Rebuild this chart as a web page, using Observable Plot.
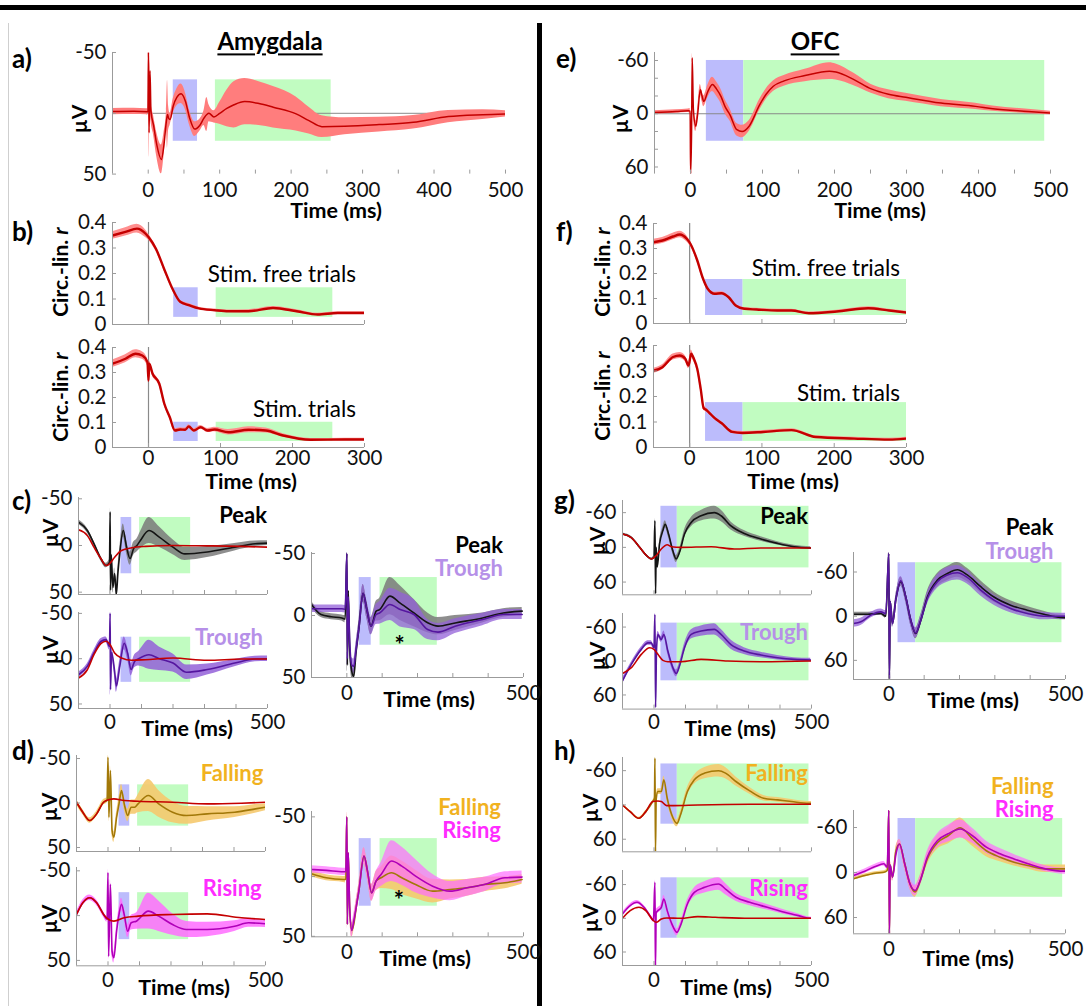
<!DOCTYPE html>
<html><head><meta charset="utf-8">
<script src="https://cdn.jsdelivr.net/npm/d3@7"></script>
<script src="https://cdn.jsdelivr.net/npm/@observablehq/plot@0.6"></script>
<style>
body{margin:0;background:#fff;font-family:Lato,sans-serif;}
#fig{position:relative;width:1086px;height:1006px;overflow:hidden;background:#fff;}
.t{position:absolute;white-space:nowrap;line-height:0.8;font-family:Lato,sans-serif;}
.bar{position:absolute;}
</style></head>
<body><div id="fig"></div>
<script>
// ---------- DATA: [time ms, mean, half-width of shaded band] ----------
const amyERP = [[-50,-1.4,2.5],[-20,-1.6,2.5],[-2,-1.3,2.5],[-0.5,-1,3],[0.3,-50,4],[1.2,16,20],[2.5,-35,12],[3.8,-2,8],[7.5,10,8],[12,26,10],[18.4,38,12],[22,26,10],[25.5,6,8],[27,1,28],[28.5,4,10],[30.5,5,5],[35,-6,6],[40,-13,7],[46,-16,8],[52,-10,7],[58,4,6],[65,13,6],[72,10,5],[78,4,6],[82,1,14],[85,0,7],[92,3,5],[100,0,9],[110,-4,15],[120,-7,19],[135,-9.6,19],[155,-8,18],[175,-5,17],[207,0.5,14],[225,6,11],[243,11,9],[275,10.7,7],[323,9.3,6],[371,7.4,5.5],[420,2.7,5],[468,1.1,4],[500,0.5,2.5]];
const ofcERP = [[-50,-1.5,2],[-20,-2.5,2],[-3,-3.4,2],[-0.5,-3,3],[0.2,68,5],[1.5,20,8],[2.4,-63,5],[4,-5,8],[7.3,14,6],[10,0,6],[13.6,-27,6],[16,-20,6],[18.4,-14,6],[24,-25,7],[30.5,-33,8],[36,-28,8],[42.6,-19,8],[48,-8,8],[54.7,1,7],[64.4,18,7],[71.7,20,7],[81.4,14,6],[96,-10,6],[105,-22,6],[115,-31,6],[130,-37,6],[159,-43,7],[193,-48,9.5],[202,-47,9],[227,-38.5,7],[251,-28,5],[275,-22,5],[299,-18.5,4.5],[348,-12,4],[396,-8.3,3.5],[420,-5.7,3],[469,-2.6,2.5],[500,-0.8,2]];
const amyRfree = [[-50,0.349,0.015],[-32,0.363,0.016],[-16,0.376,0.017],[-4,0.356,0.015],[0,0.343,0.012],[10.5,0.296,0.01],[22,0.216,0.008],[34,0.136,0.007],[44,0.089,0.006],[56,0.076,0.006],[70,0.063,0.005],[92,0.056,0.005],[111,0.052,0.005],[139,0.052,0.006],[173,0.065,0.006],[206,0.052,0.006],[235,0.039,0.005],[263,0.045,0.005],[300,0.045,0.005]];
const amyRstim = [[-50,0.335,0.015],[-32,0.355,0.016],[-18,0.375,0.016],[-8.6,0.368,0.015],[-1.4,0.341,0.015],[0,0.268,0.01],[1,0.335,0.012],[5.7,0.295,0.01],[15,0.255,0.009],[22,0.175,0.008],[29.6,0.121,0.007],[36.7,0.068,0.007],[44,0.072,0.007],[51,0.071,0.007],[56,0.084,0.007],[63,0.068,0.007],[72.5,0.081,0.007],[82,0.068,0.008],[91.6,0.072,0.009],[111,0.061,0.011],[139,0.071,0.012],[163,0.068,0.01],[187,0.048,0.007],[225,0.031,0.005],[273,0.032,0.005],[300,0.032,0.005]];
const ofcRfree = [[-50,0.325,0.012],[-37.6,0.332,0.012],[-23,0.348,0.013],[-13.5,0.356,0.013],[-4,0.339,0.012],[1,0.319,0.01],[10.6,0.252,0.008],[17.8,0.185,0.007],[25,0.139,0.006],[34.7,0.119,0.006],[44,0.121,0.006],[54,0.105,0.006],[63.7,0.072,0.005],[75.7,0.059,0.005],[92.6,0.056,0.005],[121.5,0.052,0.005],[140.8,0.052,0.005],[165,0.041,0.005],[203.5,0.048,0.005],[247,0.061,0.006],[276,0.052,0.005],[300,0.044,0.005]];
const ofcRstim = [[-50,0.301,0.01],[-37.6,0.315,0.01],[-23,0.355,0.012],[-13.5,0.361,0.012],[-6,0.348,0.012],[-1.4,0.321,0.012],[2,0.368,0.014],[5.8,0.348,0.012],[10.6,0.308,0.01],[15.4,0.228,0.009],[19.3,0.155,0.008],[22.7,0.148,0.008],[27.5,0.135,0.007],[34.7,0.115,0.006],[44.4,0.095,0.006],[58.8,0.061,0.006],[73.3,0.057,0.006],[102,0.061,0.006],[141,0.068,0.006],[174.6,0.041,0.005],[227.6,0.035,0.005],[276,0.031,0.005],[300,0.035,0.005]];

const amyPeak = [[-100,-25,2.5],[-72,-16,2.5],[-51,-2,2.5],[-29,14,2.5],[-12.5,21.4,2.5],[-1.6,18,3],[0.5,-36,4],[1.6,48,5],[4,10,5],[9.3,45,6],[14.7,30,6],[20.2,52,6],[25,30,6],[31,9,6],[42,-16,7],[52.8,2,7],[63.7,14,7],[74.6,3.6,7],[85.5,0,7],[96.4,-5.4,9],[123.7,-16,14],[156.4,-9,11],[200,1.8,8],[238,9,7],[309,7,6],[396,1.8,4],[461,-1.8,3],[500,-2.5,2.5]];
const amyPeakCtl = [[-100,-16.8],[-72,-10.7],[-51,1.8],[-29,14],[-12.5,21.4],[-1.6,19.6],[14.7,12.5],[36.5,5.4],[69,2.5],[113,1],[200,0],[309,0.4],[418,1],[500,1.8]];
const amyTrough = [[-100,17.7,3],[-72,8.5,3],[-51,-6.3,3],[-29,-19,3],[-12.5,-21,3],[-1.6,-13.6,4],[0.5,-50,4],[1.6,34,6],[5,-7,6],[14.7,14,6],[20.2,30,7],[31,8.5,7],[45,-17,7],[56,-6,7],[67,12,7],[78,3,7],[91,0,8],[123.7,-4.4,16],[156.4,0,13],[200,4.8,10],[243.5,15,8],[309,12,6],[396,4.8,4],[461,0.4,3],[500,0,3]];
const amyTroughCtl = [[-100,21.4],[-72,12.2],[-51,-4.4],[-29,-16.6],[-12.5,-19.2],[-1.6,-16.6],[14.7,-6.3],[36.5,-0.7],[69,1.8],[113,1.1],[200,-0.7],[309,1.8],[418,0.4],[500,0.4]];
const amyPeakCmp = [[-100,-8.9,2.5],[-73,-0.8,2.5],[-44,1,2.5],[-14,2,2.5],[-4.7,3,3],[0.2,-50,4],[1.5,40,5],[4,-20,5],[8,25,6],[14,45,6],[19.6,49,6],[26,30,6],[34,11,6],[46,-18,7],[56.6,-4.8,7],[68.3,8.6,7],[83,-3.5,8],[92.6,-4.8,9],[121.8,-15.6,15],[151,-10,14],[190,-2,11],[228.8,5.9,8],[258,8.6,7],[306.6,6,6],[384.4,2,4],[442.8,-2,3.5],[496.3,-3.5,3]];
const amyTroughCmp = [[-100,-5.4,3],[-44,-5.4,3],[-14,-5.4,3],[-4.7,-5,3],[0.2,-50,4],[1.5,35,5],[4,-15,5],[8,20,6],[14,40,6],[19.6,41,6],[26,28,6],[34,11,6],[46,-18,7],[56.6,-4.8,7],[68.3,8.6,7],[83,-0.8,8],[92.6,-2,9],[121.8,-8.9,13],[151,-4.8,14],[190,-0.8,12],[228.8,11.3,8],[258,13.4,7],[306.6,8.6,6],[384.4,3.2,5],[442.8,-0.8,4],[496.3,-0.8,4]];

const ofcPeak = [[-100,-23,2],[-72,-17,2],[-45.5,0,2],[-24.4,14,2],[-8.6,20,2],[-0.2,17,3],[3,-46,4],[5,80,4],[7,0,5],[10.3,34,5],[17.7,-6,5],[28.3,-29,6],[35.6,-40,6],[46.2,-23,6],[59.9,6,6],[70.4,20,6],[81,8.6,6],[96.8,-23,7],[117.9,-43,8],[149.5,-54.6,9],[191.7,-60,11],[212.8,-54.6,10],[244.4,-37,7],[286.6,-24,5],[339.4,-14.4,4],[392,-6.9,3],[444.8,-1.1,2.5],[497.6,1.1,2]];
const ofcPeakCtl = [[-100,-23],[-72,-17],[-45.5,0],[-24.4,14],[-8.6,20],[7.2,14],[23,2.9],[42,-4.6],[54.6,-1.1],[86,0],[181,-1.1],[255,2.9],[339,1.1],[497.6,1.1]];
const ofcTrough = [[-100,35,5],[-72,6,4],[-40.3,-20.6,4],[-19.2,-32,4],[-8.6,-32,4],[-0.2,-23.5,4],[3,-82,4],[5,82,4],[8,-20,5],[12.4,-47,5],[23,-38,5],[31.4,-47,6],[44,-17.6,6],[59.9,11.8,6],[70.4,22,6],[81,8.8,6],[96.8,-23.5,7],[117.9,-47,8],[149.5,-53,9],[191.7,-56,10],[212.8,-47,9],[244.4,-29,8],[286.6,-17.6,6],[339.4,-10.6,5],[392,-5.9,4],[444.8,-2.9,3],[497.6,-1.8,3]];
const ofcTroughCtl = [[-100,22],[-72,11.8],[-40.3,-11.8],[-13.9,-23.5],[-0.2,-20.6],[12.4,-11.8],[28.3,-1.2],[44,1.2],[86,1.2],[149.5,-2.9],[234,0],[339,1.2],[497.6,0]];
const ofcPeakCmp = [[-100,-2.7,2.5],[-60,-2.7,2.5],[-22.6,-3.6,2.5],[-8.5,0,3],[0,-85,4],[1.5,85,4],[4,-20,5],[10.4,10,5],[19.8,-22,6],[34,-47,6],[48,-26,7],[62,5.5,7],[76,23.6,7],[90.4,5.5,7],[109,-26,8],[137.5,-49,9],[165.7,-58,9.5],[194,-63,10],[222,-56,9],[260,-40,8],[297.6,-26,7],[344.6,-15,6],[391.8,-8.2,5],[438.9,-2.7,4],[486,1.8,3],[500,2,3]];
const ofcTroughCmp = [[-100,10,5],[-79,7.7,5],[-51,-1.4,4],[-22.6,-5.9,4],[-8.5,-3.6,4],[0,-85,4],[1.5,85,4],[4,-20,5],[10.4,10,5],[19.8,-22,6],[34,-48,6],[48,-26,7],[62,5.5,7],[76,22.7,7],[90.4,5.5,7],[109,-24,8],[137.5,-46.8,9],[165.7,-56,10],[194,-59,10],[222,-52.7,9],[260,-35.5,8],[297.6,-21.8,7],[344.6,-10.5,6],[391.8,-3.6,5],[438.9,0,5],[486,0,4],[500,0,4]];

const amyFall = [[-100,-0.9,3],[-80,10.3,3],[-58,19.7,3],[-36,12.2,3],[-14,-0.9,3],[-3,-2.8,3],[0,-51.5,4],[3,15.9,5],[7.7,-36.5,5],[13,30.9,6],[18.6,38.4,6],[27.4,15.9,6],[35,0.9,7],[42.8,-14,7],[51.5,0.9,7],[62.5,14,7],[73.5,4.7,8],[84.4,4.7,8],[95.4,0.9,10],[128,-8.4,18],[161,0.9,15],[205,10.3,12],[249,14,10],[315,12.2,8],[402,10.3,6],[468,6.6,5],[500,4.7,4]];
const amyFallCtl = [[-100,-0.9],[-80,10.3],[-58,19.7],[-36,12.2],[-14,-0.9],[2,-3.6],[18.6,-4.7],[51.5,-2.8],[95.4,-2],[205,-0.9],[315,1],[424,0.2],[500,-0.9]];
const amyRise = [[-100,-1.3,3],[-80,-14.4,3],[-58,-20,3],[-36,-14.4,3],[-14,-1.3,3],[-3,4.3,3],[0,-48,4],[2,45.5,5],[7.7,-35,5],[13,40,6],[18.6,47,6],[27.4,17.4,6],[35,-1.3,7],[42.8,-12.5,7],[51.5,-1.3,7],[62.5,17.4,7],[73.5,8,8],[90,6.2,9],[128,-5,20],[161,0.6,17],[205,10,12],[249,15.5,9],[315,15.5,8],[402,11.8,6],[446,8,5],[500,9.2,4]];
const amyRiseCtl = [[-100,-1.3],[-80,-14.4],[-58,-20],[-36,-14.4],[-14,-1.3],[2,4.3],[18.6,6.2],[51.5,2.4],[95.4,0.6],[205,-1.3],[315,-2],[424,2.4],[500,4.3]];
const amyFallCmp = [[-100,-2.4,2.5],[-58,1,2.5],[-9.7,2.4,2.5],[-3,2.4,3],[0,-50,4],[1.5,40,5],[4,-20,5],[8,25,6],[14,45,6],[19.5,40,6],[27,25,6],[34,12.2,6],[48.6,-17.2,7],[58.4,-4.6,7],[70,13.6,7],[82.7,3.8,8],[97,1,9],[126.5,-3.2,14],[155.6,1,14],[194.6,6.6,12],[243,12.2,10],[292,10.8,8],[340.5,9.4,7],[389,6.6,6],[447.5,5.2,5],[496,2.4,4]];
const amyRiseCmp = [[-100,-6,3],[-58,-5.2,3],[-9.7,-4,3],[-3,-4,3],[0,-50,4],[1.5,40,5],[4,-20,5],[8,25,6],[14,45,6],[19.5,37.4,6],[27,25,6],[34,12.2,6],[48.6,-17.2,7],[58.4,-4.6,7],[70,13.6,7],[82.7,3.8,8],[97,-1.8,10],[126.5,-13,17],[155.6,-8.8,16],[194.6,-0.4,14],[243,8,10],[292,12.2,8],[340.5,9.4,7],[389,6.6,6],[447.5,1,5],[496,0.4,5]];

const ofcFall = [[-100,0,2],[-75.6,11.7,2],[-48,23.4,2],[-26,11.7,2],[-4,-5.9,2],[1.5,-11.7,3],[3,-82,4],[4.7,82,4],[7,-10,5],[12.4,-23.4,5],[23.4,-23.4,5],[31.2,-44,6],[42,-11.7,6],[56.6,17.6,6],[73,32.2,6],[84,17.6,6],[106,-23.4,7],[128,-44,8],[161,-55.7,10],[205,-59.8,11],[227,-55.7,10],[260,-41,8],[304,-24.6,6],[348,-11.7,5],[393,-8.8,4],[436.7,-5.9,3.5],[491.8,-2.9,3],[500,-2.9,3]];
const ofcFallCtl = [[-100,0],[-75.6,11.7],[-48,23.4],[-26,11.7],[-4,-5.9],[12.4,-7],[23.4,-5.9],[40,1.2],[62,1.2],[139,0],[304,-1.2],[414.6,-1.2],[500,-1.2]];
const ofcRise = [[-100,-7.7,3],[-75.6,-22.6,3],[-53.6,-28.5,3],[-31.6,-19.6,3],[-9.5,-1.8,3],[-2,4.2,3],[3,-64,4],[4.7,87,4],[7,-10,5],[12.4,-13.6,5],[23.4,-19.6,5],[31.2,-34.4,6],[42,-13.6,6],[56.6,10,6],[73,25,6],[84,13,6],[106,-25.5,7],[128,-46,8],[161,-55,10],[205,-61,11],[227,-52,10],[260,-37.4,7],[304,-28.5,6],[359.5,-19.6,5],[414.6,-10.7,4],[458.8,-4.7,3],[497,0,2],[500,0,2]];
const ofcRiseCtl = [[-100,0],[-75.6,-13.6],[-48,-19.6],[-26,-13.6],[-4,3],[7,7.1],[23.4,1.2],[40,-0.6],[84,0],[139,-3],[194,-1.8],[304,0],[500,0]];
const ofcRiseCmp = [[-100,4,3],[-68,-1.8,3],[-38.7,-8,3],[-14,-11.6,3],[-4.5,-7.1,3],[0,-83,4],[1.5,84,4],[4,-10,5],[10.4,6.2,5],[20.3,-25,6],[30,-38,6],[45,-11.6,7],[59.6,15,7],[74.4,24,7],[89,10.7,7],[108.8,-20.4,8],[138,-42.7,9],[167.8,-51.6,11],[202,-58,12],[236.7,-49,10],[276,-33.8,8],[315,-25,7],[354.5,-18,6],[394,-11.6,5],[443,-4.9,4],[497,-1.8,4],[500,-1.8,4]];
const ofcFallCmp = [[-100,8.4,2],[-68,4,2],[-38.7,0.9,2],[-14,-0.4,2],[-4.5,-2.7,2],[0,-83,4],[1.5,84,4],[4,-10,5],[10.4,6.2,5],[20.3,-29,6],[30,-38,6],[45,-11.6,7],[59.6,15,7],[74.4,26,7],[89,10.7,7],[108.8,-18,8],[138,-40,9],[167.8,-49,11],[202,-59.6,13],[236.7,-45,10],[276,-29,8],[315,-20.4,6],[354.5,-13.8,5],[394,-9.3,5],[443,-4.9,5],[497,-4.9,5],[500,-4.9,5]];

// analysis windows (ms)
const amyBlue = [35, 69], amyGreen = [94, 256];
const ofcBlue = [22, 74], ofcGreen = [74, 492];

// ticks
const ticks500 = [0, 100, 200, 300, 400, 500];
const ticks500half = [0, 50, 100, 150, 200, 250, 300, 350, 400, 450, 500];
const ticks300 = [0, 100, 200, 300];
const labels0_500 = [0, 500];
const yAmy = [-50, 0, 50];
const yOfc = [-60, 0, 60];
const yOfcMinor = [-60, -40, -20, 0, 20, 40, 60];
const rTicks = [0, 0.1, 0.2, 0.3, 0.4];

// ---------- STYLE ----------
const FONT = "Lato, sans-serif";
const TICK = 20.5;
const AX = "#9b9b9b";
const C = {
  red: "#c40000", redBand: "#ff7d7d", redBandB: "#ff8f8f",
  black: "#141414", grayBand: "#7a7a7a",
  purple: "#55169f", purpleBand: "#9360d8", purpleLabel: "#b690e8",
  gold: "#a27808", goldBand: "#f5c96e", goldLabel: "#f1b21f",
  mag: "#b000b8", magBand: "#ff6cff", magLabel: "#ff2cff",
  blue: "#bcbcfc", green: "#c1fcc1"
};
const fig = document.getElementById("fig");

function bar(l, t, w, h, c) {
  const d = document.createElement("div");
  d.className = "bar";
  Object.assign(d.style, {left: l + "px", top: t + "px", width: w + "px", height: h + "px", background: c});
  fig.appendChild(d);
}
function txt(s, x, y, o = {}) {
  const d = document.createElement("div");
  d.className = "t";
  if (o.html) d.innerHTML = s; else d.textContent = s;
  const tx = o.anchor === "end" ? "-100%" : o.anchor === "start" ? "0" : "-50%";
  Object.assign(d.style, {left: x + "px", top: y + "px", fontSize: (o.size || 21) + "px",
    fontWeight: o.bold ? 700 : 400, color: o.color || "#000"});
  let tr = `translate(${tx},-50%)`;
  if (o.rotate) tr += ` rotate(${o.rotate}deg)`;
  d.style.transform = tr;
  if (o.underline) { d.style.textDecoration = "underline"; d.style.textDecorationThickness = "2px"; d.style.textUnderlineOffset = "3px"; }
  fig.appendChild(d);
}

const X = d => d[0], M = d => d[1], LO = d => d[1] - d[2], HI = d => d[1] + d[2];

function panel(p) {
  const [L, T, R, B] = p.box;
  const mL = 60, mR = 14, mT = 8, mB = 36;
  const w = R - L, h = B - T;
  const bottomVal = p.rev ? p.yd[1] : p.yd[0];
  const marks = [];
  for (const win of p.windows) {
    marks.push(Plot.rect([win], {x1: d => d.x[0], x2: d => d.x[1], y1: d => d.y[0], y2: d => d.y[1], fill: d => d.fill}));
  }
  if (p.zeroY) marks.push(Plot.ruleY([0], {stroke: "#8a8a8a", strokeWidth: 1}));
  if (p.zeroX) marks.push(Plot.ruleX([0], {stroke: "#8a8a8a", strokeWidth: 1.2}));
  for (const s of p.series) {
    if (s.band) marks.push(Plot.areaY(s.data, {x: X, y1: LO, y2: HI, fill: s.band, fillOpacity: s.bandOpacity ?? 1, curve: "monotone-x", clip: true}));
  }
  for (const s of p.series) {
    marks.push(Plot.line(s.data, {x: X, y: M, stroke: s.line, strokeWidth: s.width || 1.6, curve: "monotone-x", clip: true}));
  }
  for (const c of (p.controls || [])) {
    marks.push(Plot.line(c, {x: X, y: M, stroke: C.red, strokeWidth: 1.6, curve: "monotone-x", clip: true}));
  }
  // axes
  marks.push(Plot.ruleX([p.xd[0]], {stroke: AX, strokeWidth: 1}));
  if (!p.noBottom) marks.push(Plot.ruleY([bottomVal], {stroke: AX, strokeWidth: 1}));
  marks.push(Plot.tickX(p.xt, {x: d => d, insetTop: h - 4, stroke: AX}));
  marks.push(Plot.tickY(p.yt, {y: d => d, insetRight: w - 4, stroke: AX}));
  marks.push(Plot.axisY({ticks: p.yl, tickSize: 0, tickPadding: 6, tickFormat: d => String(d), fontSize: TICK, label: null, fill: "#111"}));
  if (p.xl) marks.push(Plot.axisX({ticks: p.xl, tickSize: 0, tickPadding: p.xpad ?? 6, tickFormat: d => String(d), fontSize: TICK, label: null, fill: "#111"}));
  const svg = Plot.plot({
    width: w + mL + mR, height: h + mT + mB,
    marginLeft: mL, marginRight: mR, marginTop: mT, marginBottom: mB,
    x: {domain: p.xd, axis: null}, y: {domain: p.yd, reverse: !!p.rev, axis: null},
    style: {background: "transparent", fontFamily: FONT, fontSize: TICK + "px", overflow: "visible"},
    marks
  });
  svg.style.position = "absolute";
  svg.style.left = (L - mL) + "px";
  svg.style.top = (T - mT) + "px";
  fig.appendChild(svg);
}
const win = (b, g, y) => [{x: b, y, fill: C.blue}, {x: g, y, fill: C.green}];

// ---------- frame lines ----------
bar(0, 5, 1086, 5, "#000");
bar(537, 23, 5, 983, "#000");
bar(8, 23, 1, 983, "#cfcfcf");

// ---------- a) ----------
panel({box: [112, 51.7, 505, 173.3], xd: [-50, 500], yd: [-50, 50], rev: true,
  windows: win(amyBlue, amyGreen, [-27.5, 23]), zeroY: true, noBottom: true,
  series: [{data: amyERP, band: C.redBand, line: C.red, width: 1.5}],
  xt: ticks500half, yt: yAmy, yl: yAmy, xl: ticks500, xpad: 8});
// ---------- e) ----------
panel({box: [654, 51.7, 1050, 173.3], xd: [-50, 500], yd: [-69, 68], rev: true,
  windows: win(ofcBlue, ofcGreen, [-60, 31]), zeroY: true, noBottom: true,
  series: [{data: ofcERP, band: C.redBand, line: C.red, width: 1.5}],
  xt: ticks500half, yt: yOfcMinor, yl: yOfc, xl: ticks500, xpad: 8});
// ---------- b) ----------
panel({box: [112, 222, 364, 324], xd: [-50, 300], yd: [0, 0.4],
  windows: win(amyBlue, amyGreen, [0.028, 0.144]), zeroX: true,
  series: [{data: amyRfree, band: C.redBandB, line: C.red, width: 2.4}],
  xt: ticks300, yt: rTicks, yl: rTicks});
panel({box: [112, 347, 364, 447], xd: [-50, 300], yd: [0, 0.4],
  windows: win(amyBlue, amyGreen, [0.024, 0.101]), zeroX: true,
  series: [{data: amyRstim, band: C.redBandB, line: C.red, width: 2.4}],
  xt: ticks300, yt: rTicks, yl: rTicks, xl: ticks300, xpad: 3});
// ---------- f) ----------
panel({box: [653, 223, 906, 323], xd: [-50, 300], yd: [0, 0.4],
  windows: win(ofcBlue, [74, 300], [0.032, 0.176]), zeroX: true,
  series: [{data: ofcRfree, band: C.redBandB, line: C.red, width: 2.4}],
  xt: ticks300, yt: rTicks, yl: rTicks});
panel({box: [653, 345, 906, 447], xd: [-50, 300], yd: [0, 0.4],
  windows: win(ofcBlue, [74, 300], [0.024, 0.176]), zeroX: true,
  series: [{data: ofcRstim, band: C.redBandB, line: C.red, width: 2.4}],
  xt: ticks300, yt: rTicks, yl: rTicks, xl: ticks300, xpad: 3});
// ---------- c) ----------
panel({box: [78, 497, 267, 594], xd: [-100, 500], yd: [-51.4, 52.5], rev: true,
  windows: win(amyBlue, amyGreen, [-30, 30.3]),
  series: [{data: amyPeak, band: C.grayBand, bandOpacity: 0.85, line: C.black}], controls: [amyPeakCtl],
  xt: ticks500, yt: yAmy, yl: yAmy});
panel({box: [78, 612, 267, 708], xd: [-100, 500], yd: [-51, 55], rev: true,
  windows: win(amyBlue, amyGreen, [-23.7, 26.1]),
  series: [{data: amyTrough, band: C.purpleBand, bandOpacity: 0.85, line: C.purple}], controls: [amyTroughCtl],
  xt: ticks500, yt: yAmy, yl: yAmy, xl: labels0_500, xpad: 6});
panel({box: [311, 552, 523, 677], xd: [-100, 500], yd: [-50.8, 50], rev: true,
  windows: win(amyBlue, amyGreen, [-30.6, 24]),
  series: [{data: amyPeakCmp, band: C.grayBand, bandOpacity: 0.85, line: C.black},
           {data: amyTroughCmp, band: C.purpleBand, bandOpacity: 0.75, line: C.purple}],
  xt: ticks500, yt: yAmy, yl: yAmy, xl: labels0_500, xpad: 8});
// ---------- g) ----------
panel({box: [621.7, 500, 810.7, 594.3], xd: [-100, 500], yd: [-81, 82], rev: true,
  windows: win(ofcBlue, ofcGreen, [-71, 35.5]),
  series: [{data: ofcPeak, band: C.grayBand, bandOpacity: 0.85, line: C.black}], controls: [ofcPeakCtl],
  xt: ticks500, yt: yOfc, yl: yOfc});
panel({box: [621.7, 612.7, 810.7, 708.3], xd: [-100, 500], yd: [-84, 85], rev: true,
  windows: win(ofcBlue, ofcGreen, [-67, 35]),
  series: [{data: ofcTrough, band: C.purpleBand, bandOpacity: 0.85, line: C.purple}], controls: [ofcTroughCtl],
  xt: ticks500, yt: yOfc, yl: yOfc, xl: labels0_500, xpad: 5});
panel({box: [853, 552.3, 1065, 679.3], xd: [-100, 500], yd: [-86.5, 86], rev: true,
  windows: win([26, 76], [76, 490], [-72.6, 36]),
  series: [{data: ofcPeakCmp, band: C.grayBand, bandOpacity: 0.85, line: C.black},
           {data: ofcTroughCmp, band: C.purpleBand, bandOpacity: 0.75, line: C.purple}],
  xt: ticks500, yt: yOfc, yl: yOfc, xl: labels0_500, xpad: 7});
// ---------- d) ----------
panel({box: [76, 755, 265, 851], xd: [-100, 500], yd: [-53.4, 54.5], rev: true,
  windows: win(amyBlue, amyGreen, [-20.4, 26]),
  series: [{data: amyFall, band: C.goldBand, bandOpacity: 0.9, line: C.gold}], controls: [amyFallCtl],
  xt: ticks500, yt: yAmy, yl: yAmy});
panel({box: [76, 866.7, 265, 965], xd: [-100, 500], yd: [-53.7, 56], rev: true,
  windows: win(amyBlue, amyGreen, [-25.6, 26.8]),
  series: [{data: amyRise, band: C.magBand, bandOpacity: 0.85, line: C.mag}], controls: [amyRiseCtl],
  xt: ticks500, yt: yAmy, yl: yAmy, xl: labels0_500, xpad: 7});
panel({box: [311, 810.7, 523, 936], xd: [-100, 500], yd: [-54.5, 50.4], rev: true,
  windows: win(amyBlue, amyGreen, [-31.8, 24.8]),
  series: [{data: amyFallCmp, band: C.goldBand, bandOpacity: 0.9, line: C.gold},
           {data: amyRiseCmp, band: C.magBand, bandOpacity: 0.7, line: C.mag}],
  xt: ticks500, yt: yAmy, yl: yAmy, xl: labels0_500, xpad: 8});
// ---------- h) ----------
panel({box: [621.7, 756.7, 810.7, 851], xd: [-100, 500], yd: [-83, 82], rev: true,
  windows: win(ofcBlue, ofcGreen, [-71.7, 33.7]),
  series: [{data: ofcFall, band: C.goldBand, bandOpacity: 0.9, line: C.gold}], controls: [ofcFallCtl],
  xt: ticks500, yt: yOfc, yl: yOfc});
panel({box: [621.7, 870, 810.7, 965], xd: [-100, 500], yd: [-85, 84], rev: true,
  windows: win(ofcBlue, ofcGreen, [-72, 35.5]),
  series: [{data: ofcRise, band: C.magBand, bandOpacity: 0.85, line: C.mag}], controls: [ofcRiseCtl],
  xt: ticks500, yt: yOfc, yl: yOfc, xl: labels0_500, xpad: 7});
panel({box: [853, 810, 1065, 933.3], xd: [-100, 500], yd: [-82.7, 81.7], rev: true,
  windows: win([26, 76], [76, 492], [-72, 33]),
  series: [{data: ofcFallCmp, band: C.goldBand, bandOpacity: 0.9, line: C.gold},
           {data: ofcRiseCmp, band: C.magBand, bandOpacity: 0.7, line: C.mag}],
  xt: ticks500, yt: yOfc, yl: yOfc, xl: labels0_500, xpad: 8});

// ---------- texts ----------
const PL = 26;
txt("a)", 12, 58, {bold: true, size: PL, anchor: "start"});
txt("e)", 556, 58, {bold: true, size: PL, anchor: "start"});
txt("b)", 12, 231, {bold: true, size: PL, anchor: "start"});
txt("f)", 556, 231, {bold: true, size: PL, anchor: "start"});
txt("c)", 12, 500, {bold: true, size: PL, anchor: "start"});
txt("g)", 554, 500, {bold: true, size: PL, anchor: "start"});
txt("d)", 12, 750, {bold: true, size: PL, anchor: "start"});
txt("h)", 554, 750, {bold: true, size: PL, anchor: "start"});
txt("Amygdala", 270, 41, {bold: true, size: 24, underline: true});
txt("OFC", 815, 41, {bold: true, size: 24, underline: true});

const tm = [[336, 211], [880, 211], [251, 482], [793, 482], [187, 729], [429, 700], [730, 729], [973, 701], [184, 988], [425, 959], [726, 988], [968, 959]];
for (const [x, y] of tm) txt("Time (ms)", x, y, {bold: true, size: 21.5});
const uv = [[79, 119], [620, 119], [50, 533], [50, 650], [597, 541], [597, 656], [49, 807], [49, 919], [590, 808], [590, 918]];
for (const [x, y] of uv) txt("µV", x, y, {bold: true, size: 21, rotate: -90});
for (const [x, y] of [[60, 272], [60, 397], [602, 272], [602, 396]]) txt("Circ.-lin. <i>r</i>", x, y, {bold: true, size: 21, rotate: -90, html: true});

const ST = 22.5;
txt("Stim. free trials", 356, 274, {anchor: "end", size: ST});
txt("Stim. trials", 356, 409, {anchor: "end", size: ST});
txt("Stim. free trials", 900, 268, {anchor: "end", size: ST});
txt("Stim. trials", 900, 393, {anchor: "end", size: ST});

const LG = 22;
txt("Peak", 267, 515, {bold: true, size: LG, anchor: "end"});
txt("Trough", 263, 637, {bold: true, size: LG, anchor: "end", color: C.purpleLabel});
txt("Peak", 503, 545, {bold: true, size: LG, anchor: "end"});
txt("Trough", 503, 568, {bold: true, size: LG, anchor: "end", color: C.purpleLabel});
txt("*", 399.5, 645, {bold: true, size: 24});
txt("Peak", 808, 516, {bold: true, size: LG, anchor: "end"});
txt("Trough", 808, 632, {bold: true, size: LG, anchor: "end", color: C.purpleLabel});
txt("Peak", 1053.5, 527, {bold: true, size: LG, anchor: "end"});
txt("Trough", 1053.5, 551, {bold: true, size: LG, anchor: "end", color: C.purpleLabel});

txt("Falling", 263.4, 773, {bold: true, size: LG, anchor: "end", color: C.goldLabel});
txt("Rising", 261.7, 888, {bold: true, size: LG, anchor: "end", color: C.magLabel});
txt("Falling", 501, 807, {bold: true, size: LG, anchor: "end", color: C.goldLabel});
txt("Rising", 501, 830, {bold: true, size: LG, anchor: "end", color: C.magLabel});
txt("*", 398.8, 900, {bold: true, size: 24});
txt("Falling", 808, 773, {bold: true, size: LG, anchor: "end", color: C.goldLabel});
txt("Rising", 808, 888, {bold: true, size: LG, anchor: "end", color: C.magLabel});
txt("Falling", 1053.6, 786, {bold: true, size: LG, anchor: "end", color: C.goldLabel});
txt("Rising", 1053.6, 809, {bold: true, size: LG, anchor: "end", color: C.magLabel});
</script>
</body></html>
